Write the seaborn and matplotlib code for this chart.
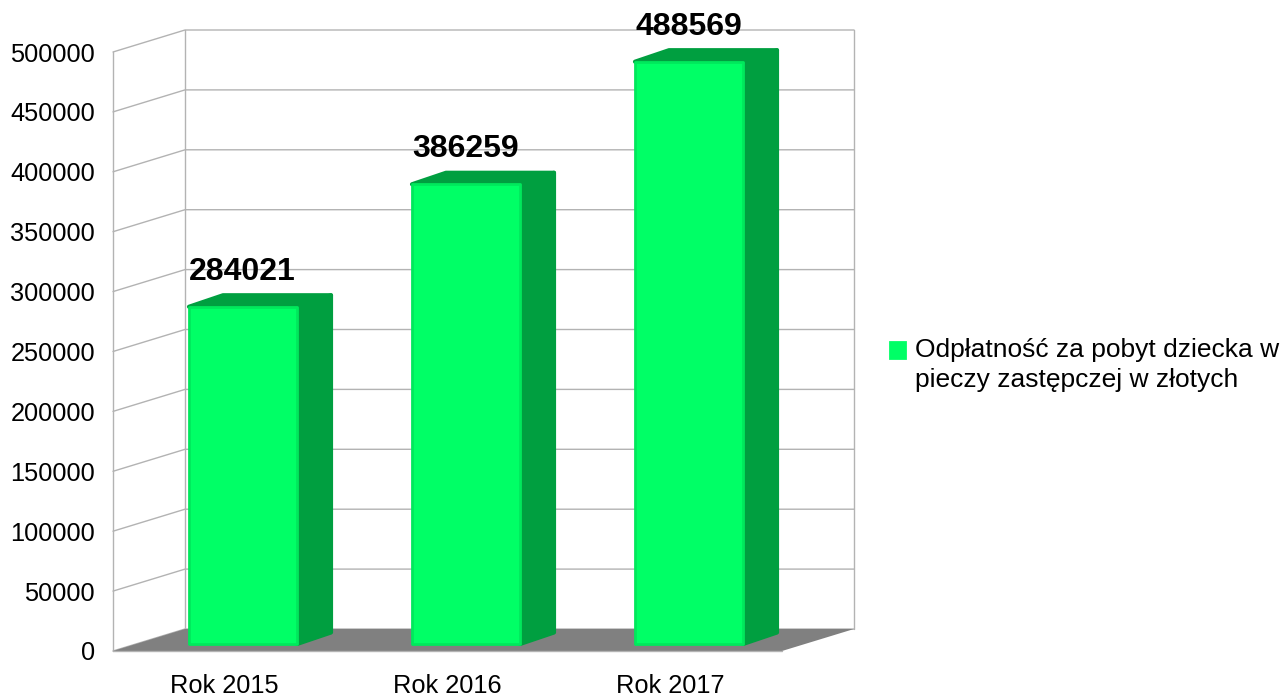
import matplotlib
matplotlib.use("Agg")
import matplotlib.pyplot as plt
import pandas as pd
import seaborn as sns

# Data
years = ["Rok 2015", "Rok 2016", "Rok 2017"]
values = [284021, 386259, 488569]
y_ticks = [0, 50000, 100000, 150000, 200000, 250000, 300000, 350000, 400000, 450000, 500000]
series_name = "Odpłatność za pobyt dziecka w\npieczy zastępczej w złotych"

# Colours
FRONT = "#00ff66"
EDGE = "#00e85c"
SIDE = "#009f40"
FLOOR = "#808080"
GRID = "#b3b3b3"

# Pixel sizes of the fake 3D box, converted to data units below
W, H = 1283, 698
PLOT_LEFT, PLOT_BOTTOM, PLOT_W, PLOT_H = 113, 651, 669, 599

sns.set_style("white")
plt.rcParams["font.family"] = ["Liberation Sans", "DejaVu Sans"]

fig = plt.figure(figsize=(W / 100, H / 100), dpi=100)
ax = fig.add_axes([PLOT_LEFT / W, (H - PLOT_BOTTOM) / H, PLOT_W / W, PLOT_H / H])

df = pd.DataFrame({"year": years, "value": values})
sns.barplot(data=df, x="year", y="value", color=FRONT, saturation=1, width=108 / 223,
            edgecolor=EDGE, linewidth=2, zorder=5, label=series_name, ax=ax)
bars = list(ax.patches)

ax.set_xlim(-0.5, 2.5)
ax.set_ylim(0, y_ticks[-1])

# px -> data units
px_x = 3 / PLOT_W
px_y = y_ticks[-1] / PLOT_H
wall_dx, wall_dy = 72 * px_x, 22 * px_y
box_dx, box_dy = 34 * px_x, 11.5 * px_y
shift = 18.5 * px_x
lift = 4 * px_y
foot = 3 * px_y  # front face stops a bit above the floor line

x0, x1 = ax.get_xlim()

# Walls and grid
for t in y_ticks:
    ax.plot([x0, x0 + wall_dx, x1 + wall_dx], [t, t + wall_dy, t + wall_dy],
            color=GRID, lw=1.0, zorder=1, clip_on=False)
for x in [x0, x0 + wall_dx, x1 + wall_dx]:
    base = 0 if x == x0 else wall_dy
    ax.plot([x, x], [base, y_ticks[-1] + base], color=GRID, lw=1.0, zorder=1, clip_on=False)

# Floor
ax.fill([x0, x0 + wall_dx, x1 + wall_dx, x1], [0, wall_dy, wall_dy, 0],
        color=FLOOR, lw=0, zorder=2, clip_on=False)
ax.plot([x0, x1], [0, 0], color=GRID, lw=1.0, zorder=2, clip_on=False)

# Bars: move the front faces into the box, then add side and top faces
for bar in bars:
    bar.set_x(bar.get_x() + shift)
    bar.set_y(lift + foot)
    bar.set_height(bar.get_height() - foot)
    bar.set_joinstyle("round")
    bar.set_clip_on(False)
    left = bar.get_x()
    right = left + bar.get_width()
    low = bar.get_y()
    top = low + bar.get_height()
    ax.fill([right, right + box_dx, right + box_dx, right],
            [low, low + box_dy, top + box_dy, top],
            facecolor=SIDE, edgecolor=SIDE, lw=3, joinstyle="round", zorder=4, clip_on=False)
    ax.fill([left, left + box_dx, right + box_dx, right],
            [top, top + box_dy, top + box_dy, top],
            facecolor=SIDE, edgecolor=SIDE, lw=3, joinstyle="round", zorder=4, clip_on=False)

# Value labels
for i, v in enumerate(values):
    ax.annotate(str(v), (i, v), xytext=(13, 28), textcoords="offset points",
                ha="center", va="center", fontsize=23, fontweight="bold",
                color="black", zorder=6, annotation_clip=False)

# Axes text
sns.despine(ax=ax, left=True, bottom=True)
ax.set_xlabel("")
ax.set_ylabel("")
ax.set_yticks(y_ticks)
ax.set_yticklabels([str(t) for t in y_ticks])
ax.tick_params(axis="y", length=0, pad=13, labelsize=18.3, labelcolor="black")
ax.tick_params(axis="x", length=0, pad=16.5, labelsize=18.3, labelcolor="black")

handles, labels = ax.get_legend_handles_labels()
ax.get_legend().remove()
leg = fig.legend(handles, labels, loc="center left", bbox_to_anchor=(890 / W, (H - 365) / H),
                 frameon=False, fontsize=19, handlelength=0.57, handleheight=0.57,
                 handletextpad=0.38, borderpad=0, borderaxespad=0, labelspacing=0,
                 labelcolor="black")
for txt in leg.get_texts():
    txt.set_linespacing(1.3)
# square sits level with the first line of the legend text
leg.legend_handles[0].set_edgecolor(FRONT)
leg.legend_handles[0].set_y(leg.legend_handles[0].get_y() + 11)

fig.savefig("out.png", dpi=100)
